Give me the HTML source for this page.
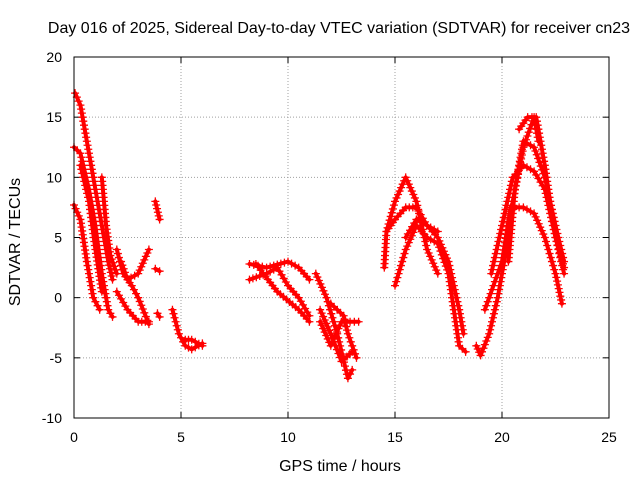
<!DOCTYPE html>
<html><head><meta charset="utf-8"><style>
body{margin:0;background:#fff}
svg{display:block;font-family:"Liberation Sans",sans-serif}
</style></head><body>
<svg id="chart" width="640" height="480" viewBox="0 0 640 480">
<text x="339" y="33" font-size="16" text-anchor="middle">Day 016 of 2025, Sidereal Day-to-day VTEC variation (SDTVAR) for receiver cn23</text>
<text x="340" y="471" font-size="16" text-anchor="middle">GPS time / hours</text>
<text transform="translate(20,242) rotate(-90)" font-size="16" text-anchor="middle">SDTVAR / TECUs</text>
<g id="grid"></g>
<g id="ticks"></g>
<g id="marks"></g>
<rect x="74" y="57" width="535" height="361" fill="none" stroke="#000" stroke-width="1"/>
</svg>
<script>
const xTicks=[0,5,10,15,20,25];
const yTicks=[-10,-5,0,5,10,15,20];
const trackA=[[0.05,17],[0.3,16],[0.6,13],[1.0,9],[1.3,6],[1.6,3],[1.8,1.5]];
const trackB=[[0,12.5],[0.3,12],[0.7,9],[1.0,6],[1.3,2],[1.6,-1],[1.8,-1.6]];
const trackC=[[0,7.7],[0.3,6.5],[0.6,3],[0.9,0],[1.2,-1]];
const trackD=[[0.3,11],[0.7,8],[1.0,4],[1.3,0.5]];
const trackE=[[1.3,10],[1.5,6],[1.7,3.5],[2.0,2]];
const trackF=[[2.0,4],[2.3,2],[2.7,1],[3.0,0],[3.5,-2.2]];
const trackG=[[2.2,3],[2.5,1.5],[3.0,2],[3.5,4]];
const trackH=[[2.0,0.5],[2.5,-1],[3.0,-2],[3.5,-2]];
const trackI=[[3.8,8],[4.0,6.5]];
const trackJ=[[3.8,2.4],[4.0,2.2]];
const trackK=[[3.9,-1.3],[4.0,-1.6]];
const trackL=[[4.6,-1],[4.9,-3],[5.2,-4],[5.5,-4.3],[6.0,-3.8]];
const trackM=[[5.2,-3.5],[5.5,-3.5],[6.0,-4.0]];
const trackN=[[8.2,2.8],[9,2.5],[10,3],[10.5,2.5],[11,1.5]];
const trackO=[[8.2,1.5],[9,2],[9.5,2.5],[10,1],[10.5,0],[11,-1.5]];
const trackP=[[8.5,2.8],[9.5,0.5],[10.5,-1],[11,-2]];
const trackQ=[[11.3,2],[11.8,0],[12.3,-3],[12.8,-6.7],[13.0,-6]];
const trackR=[[11.5,-1],[12,-3],[12.5,-5.3],[13,-4.5]];
const trackS=[[11.5,-2],[12,-4],[12.5,-2],[13.3,-2]];
const trackT=[[12.0,-0.5],[12.6,-1.5],[12.8,-3],[13.2,-5]];
const trackU=[[14.5,2.5],[14.6,5.5],[15,8],[15.5,10],[16,8],[16.5,4],[17,2]];
const trackV=[[14.6,5.5],[15,6.5],[15.5,7.5],[16,7.5],[16.5,6],[17,5],[17.5,3],[18,-1],[18.2,-3]];
const trackW=[[15,1],[15.5,4],[16,6],[16.5,5],[17,4.5],[17.5,2],[18,-4],[18.3,-4.5]];
const trackX=[[15.5,5],[16,6.5],[17,5.5]];
const trackY=[[18.8,-4],[19,-4.8],[19.4,-3],[19.8,0],[20.2,4],[20.5,8],[21,12.5],[21.5,15],[21.7,13]];
const trackZ=[[19.2,-1],[19.6,1],[20,3],[20.4,7.5],[21,7.5],[21.5,7],[22,5],[22.5,2],[22.8,-0.5]];
const trackAA=[[19.5,2],[20,6],[20.5,10],[21,11],[21.5,10.5],[22,9],[22.5,5],[22.9,2]];
const trackAB=[[20.8,14],[21.2,15],[21.6,15],[22,11],[22.5,5],[22.9,2.5]];
const trackAC=[[20.3,3],[20.6,9],[21,13],[21.5,12.5],[22,10],[22.5,6],[22.9,3]];
const tracks=[trackA,trackB,trackC,trackD,trackE,trackF,trackG,trackH,trackI,trackJ,trackK,trackL,trackM,trackN,trackO,trackP,trackQ,trackR,trackS,trackT,trackU,trackV,trackW,trackX,trackY,trackZ,trackAA,trackAB,trackAC];
const NS='http://www.w3.org/2000/svg';
const X=t=>74+t*535/25;
const Y=v=>418-(v+10)*361/30;
function mk(tag,attrs,parent){const e=document.createElementNS(NS,tag);for(const k in attrs)e.setAttribute(k,attrs[k]);parent.appendChild(e);return e;}
const grid=document.getElementById('grid'),ticks=document.getElementById('ticks'),marks=document.getElementById('marks');
xTicks.forEach(t=>{
 if(t>0&&t<25){const g=mk('line',{x1:X(t),x2:X(t),y1:57,y2:418,stroke:'#a0a0a0','stroke-dasharray':'1,2'},grid);
 
 }
 mk('line',{x1:X(t),x2:X(t),y1:418,y2:412,stroke:'#000'},ticks);
 mk('line',{x1:X(t),x2:X(t),y1:57,y2:63,stroke:'#000'},ticks);
 const l=mk('text',{x:X(t),y:442,'font-size':14,'text-anchor':'middle'},ticks);l.textContent=t;
 
 
});
yTicks.forEach(v=>{
 if(v>-10&&v<20){const g=mk('line',{x1:74,x2:609,y1:Y(v),y2:Y(v),stroke:'#a0a0a0','stroke-dasharray':'1,2'},grid);
 
 }
 mk('line',{x1:74,x2:80,y1:Y(v),y2:Y(v),stroke:'#000'},ticks);
 mk('line',{x1:603,x2:609,y1:Y(v),y2:Y(v),stroke:'#000'},ticks);
 const l=mk('text',{x:62,y:Y(v)+5,'font-size':14,'text-anchor':'end'},ticks);l.textContent=v;
 
 
});
tracks.forEach(tr=>{
 const pl=mk('polyline',{points:tr.map(p=>X(p[0])+','+Y(p[1])).join(' '),fill:'none',stroke:'#ff0000','stroke-width':4,'stroke-linejoin':'round','stroke-linecap':'round'},marks);
 
 
 let d='';
 for(let i=0;i<tr.length;i++){
  const x0=X(tr[i][0]),y0=Y(tr[i][1]);
  d+=`M${x0-4},${y0}H${x0+4}M${x0},${y0-4}V${y0+4}`;
  if(i<tr.length-1){
   const x1=X(tr[i+1][0]),y1=Y(tr[i+1][1]);
   const n=Math.max(1,Math.round(Math.hypot(x1-x0,y1-y0)/4));
   for(let k=1;k<n;k++){const x=x0+(x1-x0)*k/n,y=y0+(y1-y0)*k/n;d+=`M${x-4},${y}H${x+4}M${x},${y-4}V${y+4}`;}
  }
 }
 const m=mk('path',{d:d,stroke:'#ff0000','stroke-width':1.3,fill:'none'},marks);
 
 
});
</script>
</body></html>
